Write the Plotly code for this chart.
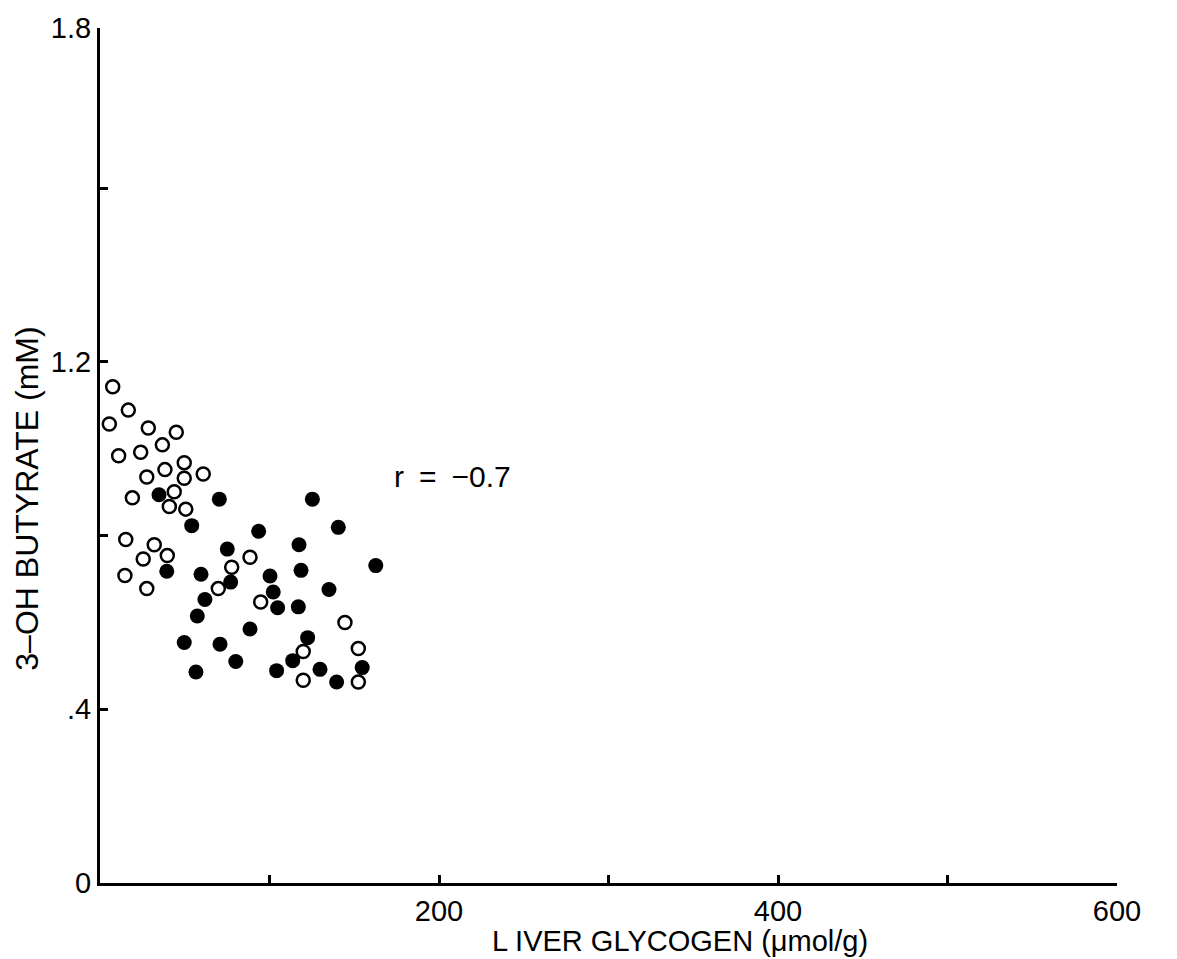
import plotly.graph_objects as go

# Liver glycogen (umol/g) vs 3-OH butyrate (mM)
open_glycogen = [7.5, 16.7, 5.5, 28.5, 45.0, 36.8, 11.0, 24.0, 49.7, 38.3, 27.6, 49.7,
                 60.9, 43.8, 19.1, 40.9, 50.6, 15.2, 32.0, 25.5, 39.7, 14.7, 27.6, 77.7,
                 69.8, 88.5, 94.8, 144.5, 119.9, 119.9, 152.4, 152.4]
open_butyrate = [1.143, 1.089, 1.057, 1.048, 1.038, 1.009, 0.984, 0.992, 0.968, 0.952,
                 0.935, 0.932, 0.942, 0.901, 0.887, 0.867, 0.861, 0.791, 0.779, 0.746,
                 0.754, 0.708, 0.678, 0.727, 0.678, 0.750, 0.647, 0.600, 0.533, 0.467,
                 0.540, 0.463]

filled_glycogen = [34.8, 70.4, 54.1, 39.4, 75.1, 59.6, 77.1, 61.9, 57.4, 49.7, 70.8, 80.1,
                   56.6, 125.3, 93.6, 140.6, 117.4, 118.6, 162.7, 100.3, 102.2, 104.8,
                   117.0, 135.1, 88.5, 122.5, 113.7, 104.2, 129.8, 139.6, 154.7]
filled_butyrate = [0.894, 0.884, 0.823, 0.718, 0.769, 0.711, 0.693, 0.653, 0.615, 0.554,
                   0.550, 0.510, 0.486, 0.884, 0.810, 0.819, 0.779, 0.720, 0.731, 0.707,
                   0.670, 0.634, 0.636, 0.676, 0.585, 0.565, 0.512, 0.489, 0.492, 0.463,
                   0.496]

Y_TOP = 1.969  # upper end of the drawn y axis, labelled "1.8"

x_ticks = [0, 100, 200, 300, 400, 500, 600]
x_ticktext = ["", "", "200", "", "400", "", "600"]
y_ticks = [0, 0.4, 0.8, 1.2, 1.6, Y_TOP]
y_ticktext = ["0", ".4", "", "1.2", "", "1.8"]

FONT = "Liberation Sans, Arial, Helvetica, sans-serif"

fig = go.Figure()
fig.add_trace(go.Scatter(
    x=open_glycogen, y=open_butyrate, mode="markers",
    marker=dict(symbol="circle", size=13, color="white",
                line=dict(color="black", width=2.5)),
    showlegend=False, cliponaxis=False))
fig.add_trace(go.Scatter(
    x=filled_glycogen, y=filled_butyrate, mode="markers",
    marker=dict(symbol="circle", size=15, color="black",
                line=dict(color="black", width=0)),
    showlegend=False, cliponaxis=False))

# correlation label
fig.add_annotation(x=208, y=0.936, xref="x", yref="y", text="r\u2002=\u2002\u22120.7",
                   showarrow=False, font=dict(family=FONT, size=30, color="black"))
# axis titles
fig.add_annotation(x=342, y=-(941 - 883) / (883 - 22), xref="x", yref="paper",
                   text="L IVER GLYCOGEN (\u03bcmol/g)", showarrow=False,
                   xanchor="center", yanchor="middle",
                   font=dict(family=FONT, size=29, color="black"))
fig.add_annotation(x=-(100 - 27) / 1017, y=(883 - 496) / (883 - 22), xref="paper", yref="paper",
                   text="3\u2013OH BUTYRATE (mM)", showarrow=False, textangle=-90,
                   xanchor="center", yanchor="middle",
                   font=dict(family=FONT, size=32, color="black"))

fig.update_layout(
    width=1177, height=959,
    margin=dict(l=100, r=60, t=22, b=76),
    paper_bgcolor="white", plot_bgcolor="white",
    font=dict(family=FONT, size=29, color="black"),
    xaxis=dict(range=[0, 600], tickvals=x_ticks, ticktext=x_ticktext,
               ticks="inside", ticklen=8, tickwidth=3, tickcolor="black",
               tickfont=dict(size=29),
               showline=True, linecolor="black", linewidth=3,
               showgrid=False, zeroline=False, fixedrange=True),
    yaxis=dict(range=[0, Y_TOP], tickvals=y_ticks, ticktext=y_ticktext,
               ticks="inside", ticklen=8, tickwidth=3, tickcolor="black",
               tickfont=dict(size=29),
               showline=True, linecolor="black", linewidth=3,
               showgrid=False, zeroline=False, fixedrange=True),
)

fig.write_html("out.html")
